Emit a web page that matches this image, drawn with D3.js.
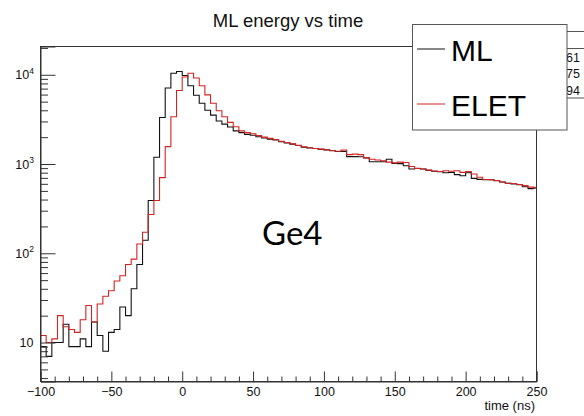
<!DOCTYPE html>
<html><head><meta charset="utf-8">
<script src="https://cdn.jsdelivr.net/npm/d3@7"></script>
<style>body{margin:0;background:#fff;} svg{display:block;}</style>
</head><body>
<svg id="c" width="584" height="416"></svg>
<script>
// ---- data ----
const binStart = -100;
const binWidth = 4;
const mlCounts = [
  9, 7, 10, 10, 16, 9, 9, 11, 9, 17,
  12, 8, 13, 14, 25, 20, 40, 75, 140, 390,
  1190, 3320, 7100, 10400, 10900, 9800, 7540, 5900, 4800, 4000,
  3530, 3030, 2800, 2600, 2350, 2250, 2150, 2100, 2020, 1960,
  1900, 1860, 1780, 1720, 1670, 1610, 1540, 1510, 1490, 1460,
  1440, 1410, 1380, 1385, 1210, 1210, 1205, 1170, 1060, 1060,
  1060, 1130, 1016, 1010, 958, 880, 890, 880, 850, 830,
  820, 800, 805, 760, 740, 800, 690, 673, 667, 667,
  651, 628, 608, 600, 585, 556, 530, 540
];
const eletCounts = [
  12, 10, 11, 20, 15, 14, 13, 18, 26, 17,
  27, 33, 38, 49, 56, 75, 86, 127, 172, 272,
  390, 705, 1565, 3380, 6660, 9460, 10400, 9190, 7540, 5950,
  4800, 3960, 3380, 2930, 2620, 2350, 2250, 2180, 2080, 2000,
  1940, 1880, 1800, 1740, 1680, 1620, 1560, 1520, 1495, 1470,
  1445, 1420, 1390, 1437, 1273, 1290, 1273, 1180, 1130, 1110,
  1090, 1050, 1030, 1050, 1040, 940, 895, 880, 855, 835,
  825, 842, 830, 842, 806, 825, 773, 710, 670, 667,
  655, 630, 610, 605, 590, 573, 551, 540
];
const xDomain = [-100, 250];
const yDomain = [3.66, 20740];
const xMajorTicks = [-100, -50, 0, 50, 100, 150, 200, 250];
const xMinorTicks = d3.range(-90, 250, 10).filter(v => v % 50 !== 0);
const yMajorTicks = [10, 100, 1000, 10000];
const yMinorTicks = [4,5,6,7,8,9,20,30,40,50,60,70,80,90,200,300,400,500,600,700,800,900,2000,3000,4000,5000,6000,7000,8000,9000,20000];
const legendLabels = ["ML", "ELET"];
const seriesColors = ["#111111", "#d42222"];
const statsTail = ["61", "75", "94"];
const titleText = "ML energy vs time";
const xTitle = "time (ns)";
const annotation = "Ge4";

// ---- layout ----
const svg = d3.select("#c");
const L = 40.5, R = 536.5, T = 46.5, B = 381.5;
const x = d3.scaleLinear().domain(xDomain).range([L, R]);
const y = d3.scaleLog().domain(yDomain).range([B, T]);
const FONT = "'Liberation Sans', Arial, Helvetica, sans-serif";
const axisColor = "#333";

svg.append("rect").attr("width", 584).attr("height", 416).attr("fill", "#fff");

svg.append("clipPath").attr("id", "frameClip")
  .append("rect").attr("x", L).attr("y", T).attr("width", R - L).attr("height", B - T);

// frame
svg.append("rect").attr("x", L).attr("y", T).attr("width", R - L).attr("height", B - T)
  .attr("fill", "none").attr("stroke", axisColor).attr("stroke-width", 1);

// histograms
function stepPoints(counts) {
  const pts = counts.map((c, i) => [binStart + i * binWidth, c]);
  pts.push([binStart + counts.length * binWidth, counts[counts.length - 1]]);
  return pts;
}
const line = d3.line().x(d => x(d[0])).y(d => y(d[1])).curve(d3.curveStepAfter);
const g = svg.append("g").attr("clip-path", "url(#frameClip)");
[mlCounts, eletCounts].forEach((counts, k) => {
  g.append("path").attr("d", line(stepPoints(counts)))
    .attr("fill", "none").attr("stroke", seriesColors[k]).attr("stroke-width", 1.1);
});

// x axis
const xAxis = svg.append("g").attr("transform", `translate(0,${B})`)
  .call(d3.axisBottom(x).tickValues(xMajorTicks).tickSize(-10).tickPadding(6)
    .tickFormat(d => d < 0 ? "\u2212" + Math.abs(d) : d));
svg.append("g").attr("transform", `translate(0,${B})`)
  .call(d3.axisBottom(x).tickValues(xMinorTicks).tickSize(-5).tickFormat(""))
  .call(s => s.select(".domain").remove());
svg.selectAll(".tick line").attr("stroke", axisColor);
svg.selectAll(".domain").attr("stroke", axisColor);
xAxis.selectAll("text").attr("font-family", FONT).attr("font-size", 12.5).attr("fill", "#111")
  .attr("dy", null).attr("y", 14.5);

svg.append("text").attr("x", 535).attr("y", 409.5).attr("text-anchor", "end")
  .attr("font-family", FONT).attr("font-size", 13).attr("fill", "#111").text(xTitle);

// y axis
const yAxis = svg.append("g").attr("transform", `translate(${L},0)`)
  .call(d3.axisLeft(y).tickValues(yMajorTicks).tickSize(-15).tickFormat(""));
svg.append("g").attr("transform", `translate(${L},0)`)
  .call(d3.axisLeft(y).tickValues(yMinorTicks).tickSize(-7.5).tickFormat(""))
  .call(s => s.select(".domain").remove());
svg.selectAll(".tick line").attr("stroke", axisColor);
svg.selectAll(".domain").attr("stroke", axisColor);

yMajorTicks.forEach(v => {
  const e = Math.round(Math.log10(v));
  const t = svg.append("text").attr("y", y(v) + 4.5).attr("text-anchor", "end")
    .attr("font-family", FONT).attr("font-size", 12.5).attr("fill", "#111");
  if (e === 1) {
    t.attr("x", 33.5).text("10");
  } else {
    t.attr("x", 34);
    t.append("tspan").text("10");
    t.append("tspan").attr("font-size", 8.5).attr("dy", -5.5).text(e);
  }
});

// stats box (mostly hidden behind the legend)
svg.append("rect").attr("x", 480.5).attr("y", 31.5).attr("width", 120).attr("height", 66.5)
  .attr("fill", "#fff").attr("stroke", "#555").attr("stroke-width", 1);
svg.append("line").attr("x1", 480).attr("x2", 584).attr("y1", 48.5).attr("y2", 48.5)
  .attr("stroke", "#555");
statsTail.forEach((s, i) => {
  svg.append("text").attr("x", 580).attr("y", 61.5 + i * 16.6).attr("text-anchor", "end")
    .attr("font-family", FONT).attr("font-size", 12.5).attr("fill", "#111").text(s);
});

// legend
const lg = svg.append("g");
lg.append("rect").attr("x", 412.5).attr("y", 24.5).attr("width", 154.5).attr("height", 105.5)
  .attr("fill", "#fff").attr("stroke", "#555").attr("stroke-width", 1);
legendLabels.forEach((lab, i) => {
  const cy = 49 + i * 55;
  lg.append("line").attr("x1", 417).attr("x2", 445).attr("y1", cy).attr("y2", cy)
    .attr("stroke", seriesColors[i]).attr("stroke-width", 1);
  lg.append("text").attr("x", 451).attr("y", cy + 11.5)
    .attr("font-family", FONT).attr("font-size", 30).attr("fill", "#000").text(lab);
});

// title
svg.append("text").attr("x", 288).attr("y", 27).attr("text-anchor", "middle")
  .attr("font-family", FONT).attr("font-size", 18.5).attr("fill", "#111").text(titleText);

// annotation
svg.append("text").attr("x", 262).attr("y", 245)
  .attr("font-family", "Lato, 'Open Sans', sans-serif").attr("font-size", 33).attr("fill", "#000").text(annotation);
</script>
</body></html>
